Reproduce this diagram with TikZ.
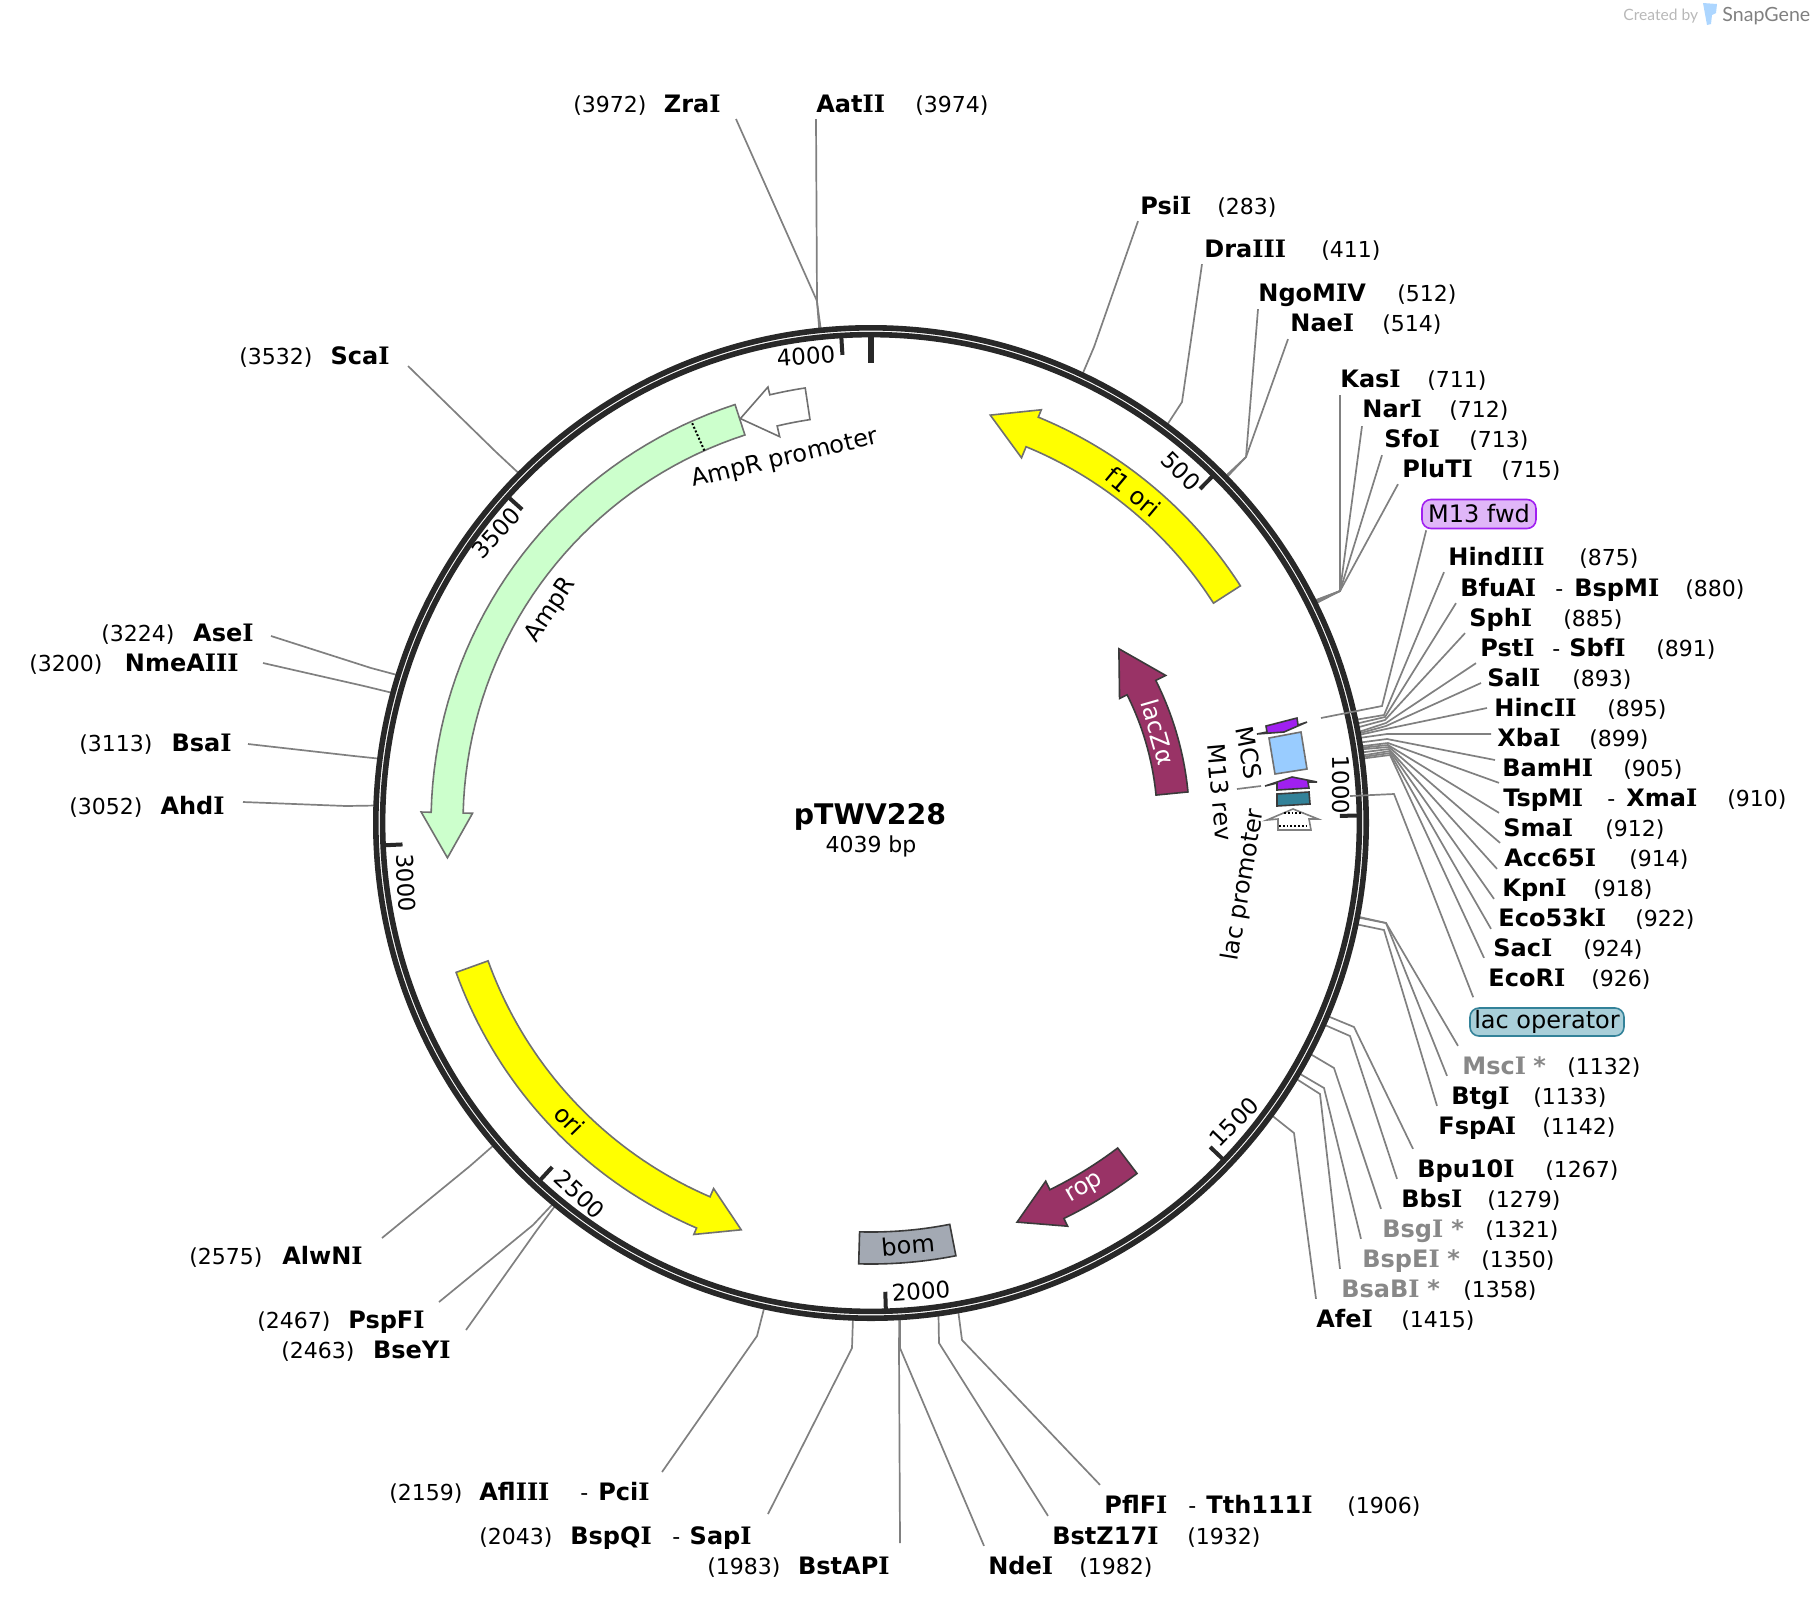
\documentclass[tikz,border=0pt]{standalone}
\usepackage{fontspec}
\setmainfont{DejaVu Sans}
\newfontfamily\markfont{Lato}
\newfontfamily\slabfont{DejaVu Serif}
\usetikzlibrary{calc}
\newcommand{\bpang}[1]{(#1*0.089131-90)}
\begingroup\catcode`I=\active\gdef I{{\slabfont\symbol{73}}}\endgroup
\definecolor{ringcol}{HTML}{282828}
\definecolor{leadcol}{HTML}{808080}
\definecolor{edgecol}{HTML}{707070}
\definecolor{darkedge}{HTML}{3A3A3A}
\definecolor{ampcol}{HTML}{CCFFCC}
\definecolor{oricol}{HTML}{FFFF00}
\definecolor{lacz}{HTML}{993366}
\definecolor{bomcol}{HTML}{A3A9B3}
\definecolor{primer}{HTML}{A020F0}
\definecolor{primerfill}{HTML}{E0B6F8}
\definecolor{mcscol}{HTML}{99CCFF}
\definecolor{teal}{HTML}{338299}
\definecolor{tealfill}{HTML}{A9CFD9}
\definecolor{starcol}{HTML}{888888}
\tikzset{
  cut/.style={anchor=west,inner xsep=2pt,inner ysep=3pt,text height=8.75pt,text depth=0pt,font=\fontsize{12}{14}\selectfont\bfseries,execute at begin node={\catcode`I=\active}},
  cutfar/.style={cut,inner ysep=5.5pt},
  cutleft/.style={cut,anchor=east},
  cutgrey/.style={cutfar,text=starcol},
  num/.style={anchor=west,inner sep=0pt,text height=8pt,text depth=0pt,font=\fontsize{11}{13}\selectfont},
  leader/.style={draw=leadcol,line width=.85pt},
  ring/.style={draw=ringcol,line width=2.8pt},
  tick/.style={draw=ringcol,line width=2pt},
  ticklabel/.style={inner sep=0pt,font=\fontsize{11.5}{13}\selectfont},
  feature/.style={shift={(871,823)},samples=40,draw=edgecol,line width=.8pt,line join=miter},
  featdark/.style={feature,draw=darkedge},
  feattext/.style={inner sep=0pt,font=\fontsize{12}{14}\selectfont},
  small/.style={draw=darkedge,line width=.8pt,line join=miter},
  tag/.style={rounded corners=4.5pt,line width=.8pt,inner sep=0pt,font=\fontsize{12}{14}\selectfont}
}
\begin{document}
\begin{tikzpicture}[x=.5pt,y=-.5pt]
\useasboundingbox (0,0) rectangle (1816,1602);
\coordinate (c) at (871,823);
% enzyme sites, right side
\node [cut] (PsiI) at (1136,206) {PsiI};
\node [num] (PsiIn) at (1217,206) {(283)};
\draw [leader] ($ (PsiI.south west) + (2,0) $) -- (1094,347) -- ($ (c) + ({\bpang{283}}:497) $);
\node [cut] (DraIII) at (1200,249) {DraIII};
\node [num] (DraIIIn) at (1321,249) {(411)};
\draw [leader] ($ (DraIII.south west) + (2,0) $) -- (1182,402) -- ($ (c) + ({\bpang{411}}:497) $);
\node [cut] (NgoMIV) at (1254,293) {NgoMIV};
\node [num] (NgoMIVn) at (1397,293) {(512)};
\draw [leader] ($ (NgoMIV.south west) + (4,1) $) -- (1246,457) -- ($ (c) + ({\bpang{512}}:497) $);
\node [cut] (NaeI) at (1286,323) {NaeI};
\node [num] (NaeIn) at (1382,323) {(514)};
\draw [leader] ($ (NaeI.south west) + (2,1) $) -- (1246,457) -- ($ (c) + ({\bpang{514}}:497) $);
\node [cut] (KasI) at (1336,379) {KasI};
\node [num] (KasIn) at (1427,379) {(711)};
\draw [leader] ($ (KasI.south west) + (4,1) $) -- (1340,591) -- ($ (c) + ({\bpang{711}}:497) $);
\node [cut] (NarI) at (1358,409) {NarI};
\node [num] (NarIn) at (1449,409) {(712)};
\draw [leader] ($ (NarI.south west) + (4,2) $) -- (1340,591) -- ($ (c) + ({\bpang{712}}:497) $);
\node [cut] (SfoI) at (1380,439) {SfoI};
\node [num] (SfoIn) at (1469,439) {(713)};
\draw [leader] ($ (SfoI.south west) + (2,1) $) -- (1340,591) -- ($ (c) + ({\bpang{713}}:497) $);
\node [cut] (PluTI) at (1398,469) {PluTI};
\node [num] (PluTIn) at (1501,469) {(715)};
\draw [leader] (PluTI.south west) -- (1340,591) -- ($ (c) + ({\bpang{715}}:497) $);
\node [cut] (HindIII) at (1444,557) {HindIII};
\node [num] (HindIIIn) at (1579,557) {(875)};
\draw [leader] (HindIII.south west) -- (1384,715) -- ($ (c) + ({\bpang{875}}:497) $);
\node [cut] (BfuAI) at (1456,588) {BfuAI};
\node [num] (BfuAIdash) at (1555,588) {-};
\node [cut] (BspMI) at (1570,588) {BspMI};
\node [num] (BfuAIn) at (1685,588) {(880)};
\draw [leader] (BfuAI.south west) -- (1385,717) -- ($ (c) + ({\bpang{880}}:497) $);
\node [cut] (SphI) at (1465,618) {SphI};
\node [num] (SphIn) at (1563,618) {(885)};
\draw [leader] (SphI.south west) -- (1385,720) -- ($ (c) + ({\bpang{885}}:497) $);
\node [cut] (PstI) at (1476,648) {PstI};
\node [num] (PstIdash) at (1552,648) {-};
\node [cut] (SbfI) at (1565,648) {SbfI};
\node [num] (PstIn) at (1656,648) {(891)};
\draw [leader] (PstI.south west) -- (1386,723) -- ($ (c) + ({\bpang{891}}:497) $);
\node [cut] (SalI) at (1483,678) {SalI};
\node [num] (SalIn) at (1572,678) {(893)};
\draw [leader] ($ (SalI.west) + (-2,5) $) -- (1386,726) -- ($ (c) + ({\bpang{893}}:497) $);
\node [cut] (HincII) at (1490,708) {HincII};
\node [num] (HincIIn) at (1607,708) {(895)};
\draw [leader] ($ (HincII.west) + (-3,0) $) -- (1386,729) -- ($ (c) + ({\bpang{895}}:497) $);
\node [cut] (XbaI) at (1493,738) {XbaI};
\node [num] (XbaIn) at (1589,738) {(899)};
\draw [leader] ($ (XbaI.west) + (-2,-4) $) -- (1387,734) -- ($ (c) + ({\bpang{899}}:497) $);
\node [cut] (BamHI) at (1498,768) {BamHI};
\node [num] (BamHIn) at (1623,768) {(905)};
\draw [leader] ($ (BamHI.west) + (-3,-8) $) -- (1387,739) -- ($ (c) + ({\bpang{905}}:497) $);
\node [cut] (TspMI) at (1499,798) {TspMI};
\node [num] (TspMIdash) at (1607,798) {-};
\node [cut] (XmaI) at (1622,798) {XmaI};
\node [num] (TspMIn) at (1727,798) {(910)};
\draw [leader] (TspMI.north west) -- (1388,743) -- ($ (c) + ({\bpang{910}}:497) $);
\node [cut] (SmaI) at (1499,828) {SmaI};
\node [num] (SmaIn) at (1605,828) {(912)};
\draw [leader] (SmaI.north west) -- (1388,745) -- ($ (c) + ({\bpang{912}}:497) $);
\node [cut] (AccI) at (1500,858) {Acc65I};
\node [num] (AccIn) at (1629,858) {(914)};
\draw [leader] (AccI.north west) -- (1389,747) -- ($ (c) + ({\bpang{914}}:497) $);
\node [cut] (KpnI) at (1498,888) {KpnI};
\node [num] (KpnIn) at (1593,888) {(918)};
\draw [leader] ($ (KpnI.north west) + (-1,-4) $) -- (1389,749) -- ($ (c) + ({\bpang{918}}:497) $);
\node [cut] (EcoKI) at (1494,918) {Eco53kI};
\node [num] (EcoKIn) at (1635,918) {(922)};
\draw [leader] ($ (EcoKI.north west) + (0,-4) $) -- (1390,751) -- ($ (c) + ({\bpang{922}}:497) $);
\node [cut] (SacI) at (1489,948) {SacI};
\node [num] (SacIn) at (1583,948) {(924)};
\draw [leader] ($ (SacI.north west) + (2,-4) $) -- (1390,753) -- ($ (c) + ({\bpang{924}}:497) $);
\node [cut] (EcoRI) at (1484,978) {EcoRI};
\node [num] (EcoRIn) at (1591,978) {(926)};
\draw [leader] ($ (EcoRI.north west) + (0,-5) $) -- (1390,755) -- ($ (c) + ({\bpang{926}}:497) $);
% lower right
\node [cutgrey] (MscI) at (1458,1066) {MscI};
\node [cutgrey] (MscIstar) at (1529,1066) {*};
\node [num] (MscIn) at (1567,1066) {(1132)};
\draw [leader] (MscI.north west) -- (1386,923) -- ($ (c) + ({\bpang{1132}}:497) $);
\node [cutfar] (BtgI) at (1447,1096) {BtgI};
\node [num] (BtgIn) at (1533,1096) {(1133)};
\draw [leader] (BtgI.north west) -- (1386,923) -- ($ (c) + ({\bpang{1133}}:497) $);
\node [cutfar] (FspAI) at (1434,1126) {FspAI};
\node [num] (FspAIn) at (1542,1126) {(1142)};
\draw [leader] ($ (FspAI.north west) + (3,0) $) -- (1384,930) -- ($ (c) + ({\bpang{1142}}:497) $);
\node [cutfar] (BpuI) at (1413,1169) {Bpu10I};
\node [num] (BpuIn) at (1545,1169) {(1267)};
\draw [leader] (BpuI.north west) -- (1354,1027) -- ($ (c) + ({\bpang{1267}}:497) $);
\node [cutfar] (BbsI) at (1397,1199) {BbsI};
\node [num] (BbsIn) at (1487,1199) {(1279)};
\draw [leader] (BbsI.north west) -- (1350,1036) -- ($ (c) + ({\bpang{1279}}:497) $);
\node [cutgrey] (BsgI) at (1378,1229) {BsgI};
\node [cutgrey] (BsgIstar) at (1447,1229) {*};
\node [num] (BsgIn) at (1485,1229) {(1321)};
\draw [leader] ($ (BsgI.north west) + (3,0) $) -- (1334,1068) -- ($ (c) + ({\bpang{1321}}:497) $);
\node [cutgrey] (BspEI) at (1358,1259) {BspEI};
\node [cutgrey] (BspEIstar) at (1443,1259) {*};
\node [num] (BspEIn) at (1481,1259) {(1350)};
\draw [leader] ($ (BspEI.north west) + (3,0) $) -- (1324,1088) -- ($ (c) + ({\bpang{1350}}:497) $);
\node [cutgrey] (BsaBI) at (1337,1289) {BsaBI};
\node [cutgrey] (BsaBIstar) at (1423,1289) {*};
\node [num] (BsaBIn) at (1463,1289) {(1358)};
\draw [leader] ($ (BsaBI.north west) + (3,0) $) -- (1320,1094) -- ($ (c) + ({\bpang{1358}}:497) $);
\node [cutfar] (AfeI) at (1312,1319) {AfeI};
\node [num] (AfeIn) at (1401,1319) {(1415)};
\draw [leader] ($ (AfeI.north west) + (4,0) $) -- (1294,1133) -- ($ (c) + ({\bpang{1415}}:497) $);
% bottom
\node [cutfar] (PflFI) at (1100,1505) {PflFI};
\node [num] (PflFIdash) at (1188,1505) {-};
\node [cut] (TthI) at (1202,1505) {Tth111I};
\node [num] (PflFIn) at (1347,1505) {(1906)};
\draw [leader] (PflFI.north west) -- (962,1340) -- ($ (c) + ({\bpang{1906}}:497) $);
\node [cutfar] (BstZI) at (1048,1536) {BstZ17I};
\node [num] (BstZIn) at (1187,1536) {(1932)};
\draw [leader] (BstZI.north west) -- (939,1343) -- ($ (c) + ({\bpang{1932}}:497) $);
\node [cutfar] (NdeI) at (984,1566) {NdeI};
\node [num] (NdeIn) at (1079,1566) {(1982)};
\draw [leader] (NdeI.north west) -- (900,1348) -- ($ (c) + ({\bpang{1982}}:497) $);
\node [cutleft] (BstAPI) at (894,1566) {BstAPI};
\node [num] (BstAPIn) at (707,1566) {(1983)};
\draw [leader] ($ (BstAPI.east) + (6,-23) $) -- (899,1347) -- ($ (c) + ({\bpang{1983}}:497) $);
\node [cutleft] (SapI) at (756,1536) {SapI};
\node [num] (BspQIdash) at (672,1536) {-};
\node [cut] (BspQI) at (566,1536) {BspQI};
\node [num] (BspQIn) at (479,1536) {(2043)};
\draw [leader] ($ (SapI.east) + (12,-22) $) -- (852,1348) -- ($ (c) + ({\bpang{2043}}:497) $);
\node [cutleft] (PciI) at (654,1492) {PciI};
\node [num] (AflIIIdash) at (580,1492) {-};
\node [cut] (AflIII) at (475,1492) {AflIII};
\node [num] (AflIIIn) at (389,1492) {(2159)};
\draw [leader] ($ (PciI.east) + (8,-20) $) -- (757,1336) -- ($ (c) + ({\bpang{2159}}:497) $);
% left side
\node [cutleft] (BseYI) at (455,1350) {BseYI};
\node [num] (BseYIn) at (281,1350) {(2463)};
\draw [leader] ($ (BseYI.east) + (11,-20) $) -- (537,1230) -- ($ (c) + ({\bpang{2463}}:497) $);
\node [cutleft] (PspFI) at (429,1320) {PspFI};
\node [num] (PspFIn) at (257,1320) {(2467)};
\draw [leader] ($ (PspFI.east) + (10,-18) $) -- (533,1225) -- ($ (c) + ({\bpang{2467}}:497) $);
\node [cutleft] (AlwNI) at (367,1256) {AlwNI};
\node [num] (AlwNIn) at (189,1256) {(2575)};
\draw [leader] ($ (AlwNI.east) + (15,-18) $) -- (470,1166) -- ($ (c) + ({\bpang{2575}}:497) $);
\node [cutleft] (AhdI) at (229,806) {AhdI};
\node [num] (AhdIn) at (69,806) {(3052)};
\draw [leader] ($ (AhdI.east) + (14,-4) $) -- (346,806) -- ($ (c) + ({\bpang{3052}}:497) $);
\node [cutleft] (BsaI) at (236,743) {BsaI};
\node [num] (BsaIn) at (79,743) {(3113)};
\draw [leader] ($ (BsaI.east) + (12,1) $) -- (354,756) -- ($ (c) + ({\bpang{3113}}:497) $);
\node [cutleft] (NmeAIII) at (243,663) {NmeAIII};
\node [num] (NmeAIIIn) at (29,663) {(3200)};
\draw [leader] ($ (NmeAIII.east) + (20,0) $) -- (364,686) -- ($ (c) + ({\bpang{3200}}:497) $);
\node [cutleft] (AseI) at (258,633) {AseI};
\node [num] (AseIn) at (101,633) {(3224)};
\draw [leader] ($ (AseI.east) + (13,3) $) -- (371,668) -- ($ (c) + ({\bpang{3224}}:497) $);
\node [cutleft] (ScaI) at (394,356) {ScaI};
\node [num] (ScaIn) at (239,356) {(3532)};
\draw [leader] ($ (ScaI.east) + (14,10) $) -- (496,452) -- ($ (c) + ({\bpang{3532}}:497) $);
\node [cutleft] (ZraI) at (725,104) {ZraI};
\node [num] (ZraIn) at (573,104) {(3972)};
\draw [leader] ($ (ZraI.east) + (11,15) $) -- (817,301) -- ($ (c) + ({\bpang{3972}}:497) $);
\node [cut] (AatII) at (812,104) {AatII};
\node [num] (AatIIn) at (915,104) {(3974)};
\draw [leader] ($ (AatII.south west) + (4,0) $) -- (817,302) -- ($ (c) + ({\bpang{3974}}:497) $);
% plasmid ring and ticks
\draw [ring] (c) circle [radius=495.2];
\draw [ring] (c) circle [radius=488.4];
\draw [ring,line width=3pt] ($ (c) + (-90:487) $) -- ($ (c) + (-90:460) $);
\draw [tick] ($ (c) + ({\bpang{500}}:487) $) -- ($ (c) + ({\bpang{500}}:469) $);
\draw [tick] ($ (c) + ({\bpang{1000}}:487) $) -- ($ (c) + ({\bpang{1000}}:469) $);
\draw [tick] ($ (c) + ({\bpang{1500}}:487) $) -- ($ (c) + ({\bpang{1500}}:469) $);
\draw [tick] ($ (c) + ({\bpang{2000}}:487) $) -- ($ (c) + ({\bpang{2000}}:469) $);
\draw [tick] ($ (c) + ({\bpang{2500}}:487) $) -- ($ (c) + ({\bpang{2500}}:469) $);
\draw [tick] ($ (c) + ({\bpang{3000}}:487) $) -- ($ (c) + ({\bpang{3000}}:469) $);
\draw [tick] ($ (c) + ({\bpang{3500}}:487) $) -- ($ (c) + ({\bpang{3500}}:469) $);
\draw [tick] ($ (c) + ({\bpang{4000}}:487) $) -- ($ (c) + ({\bpang{4000}}:469) $);
\node [ticklabel,rotate=-44.6] (t500) at (1181,471) {500};
\node [ticklabel,rotate=-89] (t1000) at (1341,785) {1000};
\node [ticklabel,rotate=46] (t1500) at (1234,1122) {1500};
\node [ticklabel,rotate=4] (t2000) at (921,1291) {2000};
\node [ticklabel,rotate=-43] (t2500) at (580,1194) {2500};
\node [ticklabel,rotate=-87.4] (t3000) at (406,883) {3000};
\node [ticklabel,rotate=48] (t3500) at (496,533) {3500};
\node [ticklabel,rotate=4] (t4000) at (806,356) {4000};
% features on the circle
\draw [feature,fill=ampcol] plot [domain=252:181.4] (\x:440) -- (181.4:450) -- (175.3:425) -- (181.4:398.6) -- plot [domain=181.4:252] (\x:408) -- cycle;
\draw [densely dotted,line width=1pt,shift={(871,823)}] (245.9:408) -- (245.9:440);
\draw [feature,fill=white] plot [domain=261.4:256.7] (\x:440) -- (256.7:448) -- (252.1:425) -- (256.7:397) -- plot [domain=256.7:261.4] (\x:408) -- cycle;
\draw [feature,fill=oricol] plot [domain=-32.7:-67.6] (\x:439) -- (-67.6:447) -- (-73.7:425) -- (-67.6:395) -- plot [domain=-67.6:-32.7] (\x:407) -- cycle;
\draw [feature,fill=oricol] plot [domain=160.2:113.3] (\x:441) -- (113.3:448) -- (107.7:427) -- (113.3:398) -- plot [domain=113.3:160.2] (\x:407) -- cycle;
\draw [featdark,fill=bomcol] plot [domain=91.6:78.9] (\x:441) -- plot [domain=78.9:91.6] (\x:409) -- cycle;
\draw [featdark,fill=lacz] plot [domain=52.8:64] (\x:440) -- (64:448.6) -- (69.9:425) -- (64:398.5) -- plot [domain=64:52.8] (\x:408) -- cycle;
\draw [featdark,fill=lacz] plot [domain=-5.6:-26.6] (\x:318.5) -- (-26.6:329.6) -- (-35.1:303) -- (-26.6:278) -- plot [domain=-26.6:-5.6] (\x:286.4) -- cycle;
% small features by the MCS
\draw [small,fill=primer] (1266,726) -- (1297,718) -- (1298,725) -- (1307,722) -- (1284,732) -- (1257,734) -- (1267,732) -- cycle;
\draw [small,draw=edgecol,fill=mcscol] (1269,738) -- (1301,732) -- (1307,769) -- (1275,774) -- cycle;
\draw [small,fill=primer] (1277,790) -- (1309,788) -- (1308,782) -- (1317,782) -- (1292,777) -- (1265,786) -- (1277,783) -- cycle;
\draw [small,fill=teal] (1277,794) -- (1309,792) -- (1310,804) -- (1277,806) -- cycle;
\draw [small,draw=leadcol,fill=white] (1278,830) -- (1311,830) -- (1309,819) -- (1318,819) -- (1293,809) -- (1267,820) -- (1278,819) -- cycle;
\draw [densely dotted,line width=.9pt] (1279,826) -- (1309,826);
\draw [densely dotted,line width=.9pt] (1284,813) -- (1303,813);
% feature labels
\node [feattext] (ampR) at (551,610) [rotate=56.4] {AmpR};
\node [feattext] (ampP) at (785,459) [rotate=13.2] {AmpR promoter};
\node [feattext] (f1ori) at (1133,492) [rotate=-40] {f1 ori};
\node [feattext] (ori) at (570,1120) [rotate=-45.6] {ori};
\node [feattext] (bom) at (908,1245) [rotate=5] {bom};
\node [feattext,text=white] (rop) at (1085,1189) [rotate=30.3] {rop};
\node [feattext,text=white] (laczA) at (1158,732) [rotate=-74] {lacZα};
\node [feattext] (MCS) at (1249,753) [rotate=-79] {MCS};
\node [feattext] (M13rev) at (1220,792) [rotate=-85] {M13 rev};
\node [feattext] (lacP) at (1244,885) [rotate=80.5] {lac promoter};
\coordinate (M13revb) at (1261,786);
\draw [leader] ($ (M13rev.center) + (17,-3) $) -- (M13revb);
% boxed labels
\node [tag,draw=primer,fill=primerfill,minimum width=57pt,minimum height=14.5pt] (M13fwd) at (1479,514) {M13 fwd};
\coordinate (M13fwdb) at (1321,718);
\draw [leader] ($ (M13fwd.south west) + (5,1) $) -- (1382,706) -- (M13fwdb);
\node [tag,draw=teal,fill=tealfill,minimum width=77pt,minimum height=14pt] (lacO) at (1547,1022) {lac operator};
\coordinate (lacOb) at (1350,796);
\draw [leader] ($ (lacO.north west) + (4,-10) $) -- (1394,794) -- (lacOb);
% centre and mark
\node [inner sep=0pt,font=\fontsize{14.2}{16}\selectfont\bfseries] (title) at (870,817) {pTWV228};
\node [inner sep=0pt,font=\fontsize{11}{13}\selectfont] (size) at (871,846) {4039 bp};
\node [inner sep=0pt,anchor=west,text=black!28,font=\markfont\fontsize{7.8}{9}\selectfont] (created) at (1623,16) {Created by};
\node [inner sep=0pt,anchor=west,text=black!50,font=\markfont\fontsize{9.8}{12}\selectfont] (snap) at (1722,16) {SnapGene};
\fill [mcscol!80] (1703,3) -- (1717,4) -- (1716,13) -- (1712,15) -- (1711,24) -- (1707,25) -- cycle;
\end{tikzpicture}
\end{document}
